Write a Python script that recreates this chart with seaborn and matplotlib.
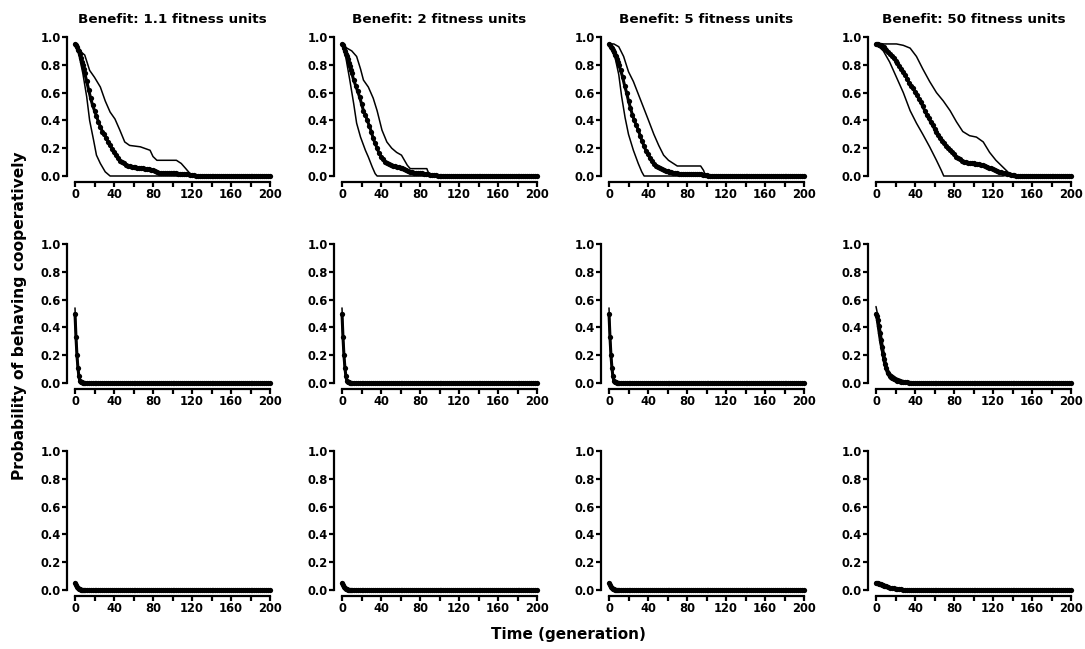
import matplotlib
matplotlib.use("Agg")
import matplotlib.pyplot as plt
from matplotlib.ticker import MultipleLocator, FormatStrFormatter
import seaborn as sns

# generations at which the mean (thick, dotted) series is sampled
GEN = list(range(0, 11)) + list(range(12, 201, 2))
BASE = 0.003  # mean value sitting on the baseline after extinction of cooperation

benefits = ["1.1", "2", "5", "50"]

# ---- row 1: mean series (values from generation 0 onward, on GEN) ----
mean_r1_b11 = [0.95, 0.94, 0.93, 0.91, 0.90, 0.88, 0.85, 0.82, 0.80, 0.77, 0.74,
               0.68, 0.62, 0.56, 0.51, 0.47, 0.43, 0.39, 0.355, 0.32, 0.30, 0.27, 0.245,
               0.22, 0.195, 0.17, 0.15, 0.13, 0.11, 0.10, 0.09, 0.08, 0.075, 0.07, 0.067,
               0.065, 0.062, 0.06, 0.058, 0.056, 0.055, 0.053, 0.052, 0.05, 0.045, 0.04,
               0.033, 0.028, 0.025, 0.023, 0.022, 0.021, 0.021, 0.02, 0.02, 0.02, 0.019,
               0.018, 0.017, 0.016, 0.015, 0.015, 0.014, 0.012, 0.01, 0.007, 0.005]
mean_r1_b2 = [0.95, 0.94, 0.92, 0.90, 0.88, 0.86, 0.84, 0.81, 0.79, 0.76, 0.74,
              0.69, 0.65, 0.61, 0.57, 0.52, 0.47, 0.44, 0.40, 0.36, 0.32, 0.27, 0.235,
              0.20, 0.165, 0.14, 0.12, 0.10, 0.09, 0.083, 0.077, 0.073, 0.069, 0.065,
              0.062, 0.058, 0.054, 0.05, 0.043, 0.036, 0.03, 0.027, 0.025, 0.023, 0.021,
              0.02, 0.018, 0.016, 0.014, 0.012, 0.01, 0.008, 0.007, 0.005]
mean_r1_b5 = [0.95, 0.94, 0.93, 0.92, 0.91, 0.89, 0.87, 0.86, 0.84, 0.82, 0.80,
              0.76, 0.71, 0.65, 0.60, 0.54, 0.49, 0.44, 0.40, 0.365, 0.33, 0.29, 0.25,
              0.215, 0.18, 0.155, 0.13, 0.105, 0.088, 0.075, 0.064, 0.055, 0.049, 0.044,
              0.039, 0.035, 0.031, 0.027, 0.024, 0.021, 0.019, 0.017, 0.016, 0.016,
              0.015, 0.015, 0.015, 0.014, 0.014, 0.013, 0.012, 0.012, 0.011, 0.01,
              0.008, 0.005]
mean_r1_b50 = [0.95, 0.95, 0.95, 0.945, 0.94, 0.94, 0.935, 0.93, 0.925, 0.915, 0.91,
               0.895, 0.88, 0.865, 0.85, 0.83, 0.81, 0.79, 0.77, 0.75, 0.725, 0.70, 0.67,
               0.65, 0.63, 0.605, 0.58, 0.555, 0.53, 0.50, 0.47, 0.44, 0.415, 0.39, 0.365,
               0.34, 0.32, 0.295, 0.275, 0.255, 0.235, 0.215, 0.20, 0.185, 0.17, 0.155,
               0.14, 0.13, 0.12, 0.11, 0.103, 0.099, 0.096, 0.094, 0.092, 0.091, 0.089,
               0.087, 0.084, 0.08, 0.077, 0.072, 0.067, 0.061, 0.055, 0.049, 0.043, 0.037,
               0.032, 0.027, 0.022, 0.018, 0.014, 0.011, 0.009, 0.007, 0.005]

# ---- row 1: upper / lower thin lines ----
hi_r1_b11_x = [0, 5, 10, 15, 20, 26, 31, 36, 41, 46, 51, 56, 67, 77, 80, 84, 104, 109, 114, 118, 120, 200]
hi_r1_b11_y = [0.95, 0.9, 0.87, 0.76, 0.71, 0.64, 0.54, 0.46, 0.41, 0.33, 0.245, 0.22, 0.21, 0.185,
               0.14, 0.113, 0.113, 0.09, 0.05, 0.017, 0.0, 0.0]
lo_r1_b11_x = [0, 3, 5, 8, 12, 15, 19, 22, 26, 31, 36, 200]
lo_r1_b11_y = [0.95, 0.9, 0.84, 0.74, 0.57, 0.40, 0.26, 0.15, 0.09, 0.03, 0.0, 0.0]

hi_r1_b2_x = [0, 5, 10, 15, 19, 22, 27, 32, 36, 41, 46, 51, 56, 61, 67, 70, 87, 90, 200]
hi_r1_b2_y = [0.95, 0.92, 0.90, 0.86, 0.77, 0.69, 0.64, 0.56, 0.47, 0.33, 0.245, 0.2, 0.17, 0.15,
              0.077, 0.053, 0.053, 0.0, 0.0]
lo_r1_b2_x = [0, 4, 8, 12, 15, 19, 24, 27, 31, 34, 36, 200]
lo_r1_b2_y = [0.95, 0.85, 0.69, 0.52, 0.38, 0.28, 0.185, 0.137, 0.065, 0.017, 0.0, 0.0]

hi_r1_b5_x = [0, 5, 10, 15, 20, 25, 30, 35, 40, 46, 51, 56, 61, 70, 94, 97, 99, 200]
hi_r1_b5_y = [0.95, 0.95, 0.93, 0.86, 0.75, 0.68, 0.59, 0.50, 0.41, 0.30, 0.22, 0.15, 0.113,
              0.072, 0.072, 0.04, 0.0, 0.0]
lo_r1_b5_x = [0, 6, 10, 13, 16.5, 20, 25, 30, 33.6, 36, 200]
lo_r1_b5_y = [0.95, 0.86, 0.73, 0.57, 0.42, 0.30, 0.185, 0.09, 0.03, 0.0, 0.0]

hi_r1_b50_x = [0, 11, 21, 28, 35, 41.5, 48, 55, 62, 69, 76, 82.5, 89, 96, 103, 110, 116.5, 123,
               130, 137, 140, 200]
hi_r1_b50_y = [0.95, 0.95, 0.95, 0.94, 0.92, 0.86, 0.77, 0.68, 0.6, 0.54, 0.47, 0.39, 0.32, 0.29,
               0.28, 0.245, 0.17, 0.113, 0.065, 0.017, 0.0, 0.0]
lo_r1_b50_x = [0, 7.5, 14, 21, 28, 35, 41.5, 48, 55, 62, 67, 69.5, 130, 140, 145, 200]
lo_r1_b50_y = [0.95, 0.90, 0.82, 0.71, 0.60, 0.47, 0.38, 0.30, 0.21, 0.113, 0.04, 0.0, 0.0,
               0.012, 0.004, 0.003]

# ---- row 2 ----
mean_r2 = [0.5, 0.33, 0.20, 0.11, 0.048, 0.012, 0.006, 0.004]
mean_r2_b50 = [0.5, 0.48, 0.45, 0.41, 0.36, 0.31, 0.26, 0.21, 0.17, 0.135, 0.11,
               0.075, 0.05, 0.038, 0.028, 0.02, 0.015, 0.011, 0.009, 0.007, 0.006, 0.005]
hi_r2_x = [0, 1, 2, 3, 4, 5, 7, 200]
hi_r2_y = [0.54, 0.36, 0.22, 0.12, 0.05, 0.015, 0.004, 0.004]
lo_r2_x = [0, 1, 2, 3, 4, 5, 7, 200]
lo_r2_y = [0.46, 0.30, 0.18, 0.09, 0.035, 0.008, 0.002, 0.002]
hi_r2_b50_x = [0, 4, 7.5, 11, 14.3, 21, 28, 38, 50, 200]
hi_r2_b50_y = [0.55, 0.41, 0.25, 0.12, 0.07, 0.036, 0.017, 0.007, 0.004, 0.004]
lo_r2_b50_x = [0, 4, 7.5, 11, 14.3, 21, 28, 200]
lo_r2_b50_y = [0.48, 0.29, 0.17, 0.07, 0.029, 0.01, 0.002, 0.002]

# ---- row 3 ----
mean_r3 = [0.05, 0.035, 0.022, 0.012, 0.007, 0.005]
mean_r3_b50 = [0.053, 0.051, 0.049, 0.046, 0.043, 0.04, 0.037, 0.034, 0.031, 0.028, 0.026,
               0.021, 0.017, 0.014, 0.011, 0.009, 0.007, 0.006, 0.005]
hi_r3_x = [0, 1, 2, 3, 4, 6, 200]
hi_r3_y = [0.06, 0.045, 0.03, 0.018, 0.01, 0.004, 0.004]
lo_r3_x = [0, 1, 2, 3, 4, 200]
lo_r3_y = [0.04, 0.027, 0.015, 0.007, 0.003, 0.003]
hi_r3_b50_x = [0, 8, 16, 24, 32, 200]
hi_r3_b50_y = [0.06, 0.04, 0.02, 0.01, 0.005, 0.004]
lo_r3_b50_x = [0, 8, 16, 24, 200]
lo_r3_b50_y = [0.045, 0.025, 0.01, 0.004, 0.003]


def pad(head):
    return head + [BASE] * (len(GEN) - len(head))


panels = [
    [(mean_r1_b11, hi_r1_b11_x, hi_r1_b11_y, lo_r1_b11_x, lo_r1_b11_y),
     (mean_r1_b2, hi_r1_b2_x, hi_r1_b2_y, lo_r1_b2_x, lo_r1_b2_y),
     (mean_r1_b5, hi_r1_b5_x, hi_r1_b5_y, lo_r1_b5_x, lo_r1_b5_y),
     (mean_r1_b50, hi_r1_b50_x, hi_r1_b50_y, lo_r1_b50_x, lo_r1_b50_y)],
    [(mean_r2, hi_r2_x, hi_r2_y, lo_r2_x, lo_r2_y)] * 3
    + [(mean_r2_b50, hi_r2_b50_x, hi_r2_b50_y, lo_r2_b50_x, lo_r2_b50_y)],
    [(mean_r3, hi_r3_x, hi_r3_y, lo_r3_x, lo_r3_y)] * 3
    + [(mean_r3_b50, hi_r3_b50_x, hi_r3_b50_y, lo_r3_b50_x, lo_r3_b50_y)],
]

sns.set_theme(style="ticks")
plt.rcParams["font.family"] = ["DejaVu Sans"]
plt.rcParams["font.weight"] = "bold"
plt.rcParams["text.color"] = "black"
plt.rcParams["axes.labelcolor"] = "black"

FW, FH = 1085, 649
fig = plt.figure(figsize=(FW / 100, FH / 100), dpi=100)

lefts = [75, 342, 609, 876]
tops = [37, 244, 451]
W, H = 195, 139

for r, top in enumerate(tops):
    for c, left in enumerate(lefts):
        mean, hx, hy, lx, ly = panels[r][c]
        ax = fig.add_axes([left / FW, 1 - (top + H) / FH, W / FW, H / FH])
        sns.lineplot(x=hx, y=hy, ax=ax, color="black", lw=1.1, clip_on=False)
        sns.lineplot(x=lx, y=ly, ax=ax, color="black", lw=1.1, clip_on=False)
        sns.lineplot(x=GEN, y=pad(mean), ax=ax, color="black", lw=2.2,
                     marker="o", ms=3.8, mew=0, clip_on=False)
        ax.set_xlim(0, 200)
        ax.set_ylim(0, 1)
        ax.set_xticks([0, 40, 80, 120, 160, 200])
        ax.xaxis.set_minor_locator(MultipleLocator(20))
        ax.set_yticks([0, 0.2, 0.4, 0.6, 0.8, 1.0])
        ax.yaxis.set_major_formatter(FormatStrFormatter("%.1f"))
        ax.set_xlabel("")
        ax.set_ylabel("")
        sns.despine(ax=ax)
        ax.spines["left"].set_position(("outward", 5.5))
        ax.spines["bottom"].set_position(("outward", 4))
        for s in ("left", "bottom"):
            ax.spines[s].set_linewidth(1.6)
            ax.spines[s].set_color("black")
        ax.tick_params(which="both", direction="out", length=3.5, width=1.6,
                       color="black", labelsize=8.3, pad=1, labelcolor="black")
        ax.tick_params(axis="x", which="minor", length=3.5, width=1.6)
        if r == 0:
            ax.set_title(f"Benefit: {benefits[c]} fitness units", fontsize=9.7,
                         fontweight="bold", pad=10, color="black")

fig.text(568 / FW, 1 - 634 / FH, "Time (generation)", ha="center", va="center",
         fontsize=11, fontweight="bold", color="black")
fig.text(20 / FW, 1 - 316 / FH, "Probability of behaving cooperatively", rotation=90,
         ha="center", va="center", fontsize=11.2, fontweight="bold", color="black")

fig.savefig("out.png", dpi=100, facecolor="white")
